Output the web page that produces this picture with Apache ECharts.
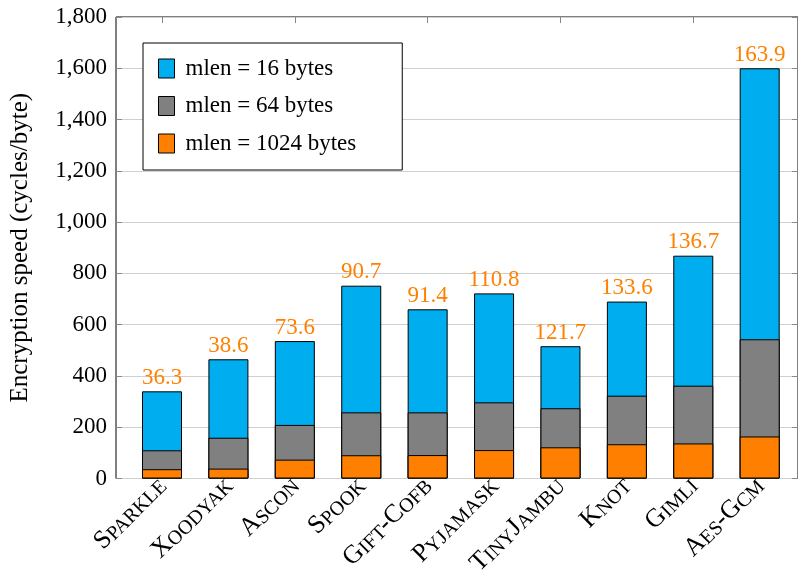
<!DOCTYPE html>
<html>
<head>
<meta charset="utf-8">
<script src="https://cdn.jsdelivr.net/npm/echarts@6/dist/echarts.min.js"></script>
<style>html,body{margin:0;padding:0;background:#fff}#c{width:798px;height:587px}</style>
</head>
<body>
<div id="c"></div>
<script>
const categories = ['Sparkle', 'Xoodyak', 'Ascon', 'Spook', 'Gift-Cofb', 'Pyjamask', 'TinyJambu', 'Knot', 'Gimli', 'Aes-Gcm'];
const mlen16 = [340, 465, 536, 752, 660, 722, 516, 690, 869, 1600];
const mlen64 = [110, 159, 209, 258, 258, 297, 274, 323, 362, 543];
const mlen1024 = [36.3, 38.6, 73.6, 90.7, 91.4, 110.8, 121.7, 133.6, 136.7, 163.9];
const yTicks = [0, 200, 400, 600, 800, 1000, 1200, 1400, 1600, 1800];
const seriesNames = ['mlen = 16 bytes', 'mlen = 64 bytes', 'mlen = 1024 bytes'];

const FONT = 'Liberation Serif';
const C_BLUE = '#00AEEF', C_GRAY = '#808080', C_ORANGE = '#FF8000';

function smallCaps(s) {
  let out = '';
  let i = 0;
  while (i < s.length) {
    const isLower = s[i] >= 'a' && s[i] <= 'z';
    let j = i;
    while (j < s.length && ((s[j] >= 'a' && s[j] <= 'z') === isLower)) j++;
    const seg = s.slice(i, j);
    out += isLower ? '{s|' + seg.toUpperCase() + '}' : '{b|' + seg + '}';
    i = j;
  }
  return out;
}

const chart = echarts.init(document.getElementById('c'), null, {renderer: 'canvas'});
const gridTop = 17, gridBottom = 108.5;
chart.setOption({
  animation: false,
  backgroundColor: '#fff',
  textStyle: {fontFamily: FONT},
  grid: [
    {left: 128.8, right: 5.1, top: gridTop, bottom: gridBottom},
    {left: 116, right: 0, top: gridTop, bottom: gridBottom, show: true, borderColor: '#000', borderWidth: 1, backgroundColor: 'transparent', z: 0}
  ],
  legend: {
    data: seriesNames,
    orient: 'vertical',
    left: 143, top: 43,
    padding: [14, 46, 15, 15],
    itemWidth: 16, itemHeight: 19, itemGap: 14.5,
    borderColor: '#000', borderWidth: 1, backgroundColor: '#fff',
    icon: 'rect',
    itemStyle: {borderColor: '#000', borderWidth: 1},
    textStyle: {fontFamily: FONT, fontSize: 23, color: '#000', padding: [0, 0, 0, 6], lineHeight: 19},
    selectedMode: false,
    z: 10
  },
  xAxis: [
    {type: 'category', gridIndex: 0, data: categories, position: 'bottom',
     axisLine: {show: false}, axisTick: {show: false},
     axisLabel: {interval: 0, rotate: 45, margin: 3, color: '#000',
       formatter: v => smallCaps(v),
       rich: {
         b: {fontFamily: FONT, fontSize: 26, color: '#000', verticalAlign: 'bottom', lineHeight: 26},
         s: {fontFamily: FONT, fontSize: 20, color: '#000', verticalAlign: 'bottom', lineHeight: 26}
       }}},
    {type: 'value', gridIndex: 1, min: 0, max: 1, show: false},
    {type: 'category', gridIndex: 0, data: categories, position: 'top',
     axisLine: {show: false}, axisLabel: {show: false},
     axisTick: {show: true, inside: true, alignWithLabel: true, length: 6, lineStyle: {color: '#888'}}}
  ],
  yAxis: [
    {type: 'value', gridIndex: 0, min: 0, max: 1800, interval: 200, show: false},
    {type: 'value', gridIndex: 1, min: 0, max: 1800, interval: 200, position: 'left',
     axisLine: {show: false},
     axisTick: {show: true, inside: true, length: 6, lineStyle: {color: '#888'}},
     splitLine: {show: true, lineStyle: {color: '#d0d0d0', width: 1}},
     axisLabel: {color: '#000', fontSize: 23, fontFamily: FONT, margin: 9,
       formatter: v => yTicks.indexOf(v) >= 0 ? v.toLocaleString('en-US') : ''},
     name: 'Encryption speed (cycles/byte)', nameLocation: 'middle', nameGap: 83,
     nameTextStyle: {color: '#000', fontSize: 25, fontFamily: FONT}},
    {type: 'value', gridIndex: 1, min: 0, max: 1800, interval: 200, position: 'right',
     axisLine: {show: false}, axisLabel: {show: false}, splitLine: {show: false},
     axisTick: {show: true, inside: true, length: 6, lineStyle: {color: '#888'}}}
  ],
  series: [
    {name: seriesNames[0], type: 'bar', xAxisIndex: 0, yAxisIndex: 0, data: mlen16,
     barWidth: 40, barGap: '-100%',
     itemStyle: {color: C_BLUE, borderColor: '#000', borderWidth: 1},
     label: {show: true, position: 'top', distance: 2, color: C_ORANGE, fontSize: 23, fontFamily: FONT,
       formatter: p => mlen1024[p.dataIndex].toFixed(1)}},
    {name: seriesNames[1], type: 'bar', xAxisIndex: 0, yAxisIndex: 0, data: mlen64,
     barWidth: 40, barGap: '-100%',
     itemStyle: {color: C_GRAY, borderColor: '#000', borderWidth: 1}},
    {name: seriesNames[2], type: 'bar', xAxisIndex: 0, yAxisIndex: 0, data: mlen1024,
     barWidth: 40, barGap: '-100%',
     itemStyle: {color: C_ORANGE, borderColor: '#000', borderWidth: 1}}
  ]
});
</script>
</body>
</html>
